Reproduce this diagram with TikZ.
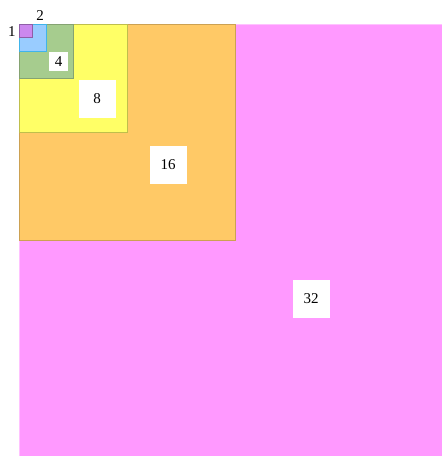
\documentclass[tikz,border=0pt]{standalone}
\usepackage{fontspec}
\setmainfont{Liberation Serif}
\usetikzlibrary{positioning}
\definecolor{sqpink}{HTML}{FF99FF}
\definecolor{sqorange}{HTML}{FFC966}
\definecolor{sqyellow}{HTML}{FFFF66}
\definecolor{sqgreen}{HTML}{A6CC8E}
\definecolor{sqblue}{HTML}{99CCFF}
\definecolor{sqpurple}{HTML}{CC88EE}

\begin{document}
\begin{tikzpicture}[
  x=1pt, y=-1pt,
  sq/.style={rectangle, draw, line width=1pt, anchor=north west, inner sep=0pt, outer sep=0pt},
  tag/.style={rectangle, fill=white, inner sep=0pt, font=\fontsize{15}{17}\selectfont},
  bigtag/.style={tag, minimum width=37pt, minimum height=38pt},
  plain/.style={inner sep=0pt, font=\fontsize{15}{17}\selectfont}
]
  \useasboundingbox (0,0) rectangle (442,456);
  \clip (0,0) rectangle (442,456);
  % squares, largest first
  \node[sq, fill=sqpink, draw=sqpink!60!white, minimum size=432pt] (sq32) at (19,24) {};
  \node[sq, fill=sqorange, draw=sqorange!80!black, minimum size=216pt] (sq16) at (19,24) {};
  \node[sq, fill=sqyellow, draw=sqyellow!75!black, minimum size=108pt] (sq8) at (19,24) {};
  \node[sq, fill=sqgreen, draw=sqgreen!80!black, minimum size=54pt] (sq4) at (19,24) {};
  \node[sq, fill=sqblue, draw=cyan!60!sqblue, minimum size=27pt] (sq2) at (19,24) {};
  \node[sq, fill=sqpurple, draw=sqpurple!70!black, minimum size=13.5pt] (sq1) at (19,24) {};
  % labels
  \node[bigtag] (lab32) at (311,299) {32};
  \node[bigtag] (lab16) at (168,165) {16};
  \node[bigtag] (lab8) at (97,99) {8};
  \node[tag, minimum size=19pt] (lab4) at (58.5,61.5) {4};
  \node[plain] (lab2) at (40,15.5) {2};
  \node[plain] (lab1) at (12,31.5) {1};
\end{tikzpicture}
\end{document}
